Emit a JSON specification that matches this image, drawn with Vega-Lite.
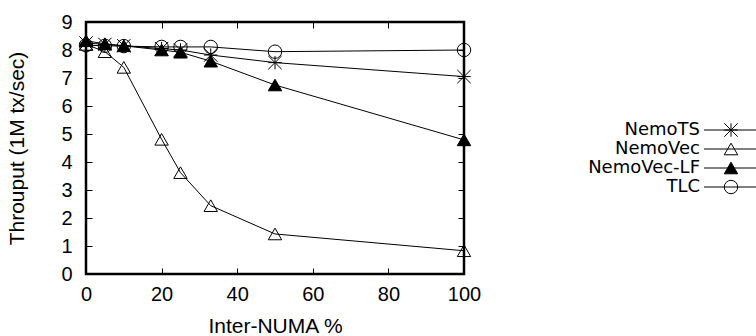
{
  "$schema": "https://vega.github.io/schema/vega-lite/v6.json",
  "padding": {"left": 5, "top": 10, "right": 0, "bottom": 0},
  "spacing": 13,
  "background": "white",
  "datasets": {
    "perf": [
      {"series": "NemoTS", "x": 0, "y": 8.25},
      {"series": "NemoTS", "x": 5, "y": 8.2},
      {"series": "NemoTS", "x": 10, "y": 8.15},
      {"series": "NemoTS", "x": 20, "y": 8.05},
      {"series": "NemoTS", "x": 25, "y": 8.0},
      {"series": "NemoTS", "x": 33, "y": 7.82},
      {"series": "NemoTS", "x": 50, "y": 7.55},
      {"series": "NemoTS", "x": 100, "y": 7.05},
      {"series": "NemoVec", "x": 0, "y": 8.2},
      {"series": "NemoVec", "x": 5, "y": 7.94},
      {"series": "NemoVec", "x": 10, "y": 7.38},
      {"series": "NemoVec", "x": 20, "y": 4.81},
      {"series": "NemoVec", "x": 25, "y": 3.62},
      {"series": "NemoVec", "x": 33, "y": 2.44},
      {"series": "NemoVec", "x": 50, "y": 1.43},
      {"series": "NemoVec", "x": 100, "y": 0.83},
      {"series": "NemoVec-LF", "x": 0, "y": 8.33},
      {"series": "NemoVec-LF", "x": 5, "y": 8.22},
      {"series": "NemoVec-LF", "x": 10, "y": 8.15},
      {"series": "NemoVec-LF", "x": 20, "y": 8.0},
      {"series": "NemoVec-LF", "x": 25, "y": 7.92},
      {"series": "NemoVec-LF", "x": 33, "y": 7.6},
      {"series": "NemoVec-LF", "x": 50, "y": 6.75},
      {"series": "NemoVec-LF", "x": 100, "y": 4.79},
      {"series": "TLC", "x": 0, "y": 8.17},
      {"series": "TLC", "x": 5, "y": 8.15},
      {"series": "TLC", "x": 10, "y": 8.14},
      {"series": "TLC", "x": 20, "y": 8.11},
      {"series": "TLC", "x": 25, "y": 8.11},
      {"series": "TLC", "x": 33, "y": 8.11},
      {"series": "TLC", "x": 50, "y": 7.94},
      {"series": "TLC", "x": 100, "y": 8.0}
    ],
    "keys": [
      {"series": "NemoTS"},
      {"series": "NemoVec"},
      {"series": "NemoVec-LF"},
      {"series": "TLC"}
    ]
  },
  "config": {
    "font": "Liberation Sans",
    "view": {"stroke": "black", "strokeWidth": 2.5},
    "axis": {
      "grid": false,
      "domain": false,
      "ticks": true,
      "tickColor": "black",
      "tickWidth": 1,
      "tickSize": -6,
      "labelColor": "black",
      "labelFont": "Liberation Sans",
      "labelFontSize": 20,
      "titleColor": "black",
      "titleFont": "Liberation Sans",
      "titleFontSize": 21,
      "titleFontWeight": "normal"
    }
  },
  "hconcat": [
    {
      "width": 378,
      "height": 252,
      "data": {"name": "perf"},
      "resolve": {"axis": {"x": "independent", "y": "independent"}},
      "layer": [
        {
          "mark": {"type": "line", "color": "black", "strokeWidth": 1},
          "encoding": {
            "x": {
              "field": "x", "type": "quantitative",
              "scale": {"domain": [0, 100], "nice": false, "zero": false},
              "axis": {"orient": "bottom", "values": [0, 20, 40, 60, 80, 100], "title": "Inter-NUMA %", "labelPadding": 16, "titlePadding": 11, "labelFlush": false}
            },
            "y": {
              "field": "y", "type": "quantitative",
              "scale": {"domain": [0, 9], "nice": false},
              "axis": {"orient": "left", "values": [0, 1, 2, 3, 4, 5, 6, 7, 8, 9], "title": "Throuput (1M tx/sec)", "labelPadding": 20, "titlePadding": 33, "labelFlush": false}
            },
            "detail": {"field": "series", "type": "nominal"}
          }
        },
        {
          "mark": {"type": "point", "size": 180, "strokeWidth": 1, "opacity": 1},
          "encoding": {
            "x": {
              "field": "x", "type": "quantitative",
              "scale": {"domain": [0, 100], "nice": false, "zero": false},
              "axis": {"orient": "top", "values": [0, 20, 40, 60, 80, 100], "labels": false, "title": null}
            },
            "y": {
              "field": "y", "type": "quantitative",
              "scale": {"domain": [0, 9], "nice": false},
              "axis": {"orient": "right", "values": [0, 1, 2, 3, 4, 5, 6, 7, 8, 9], "labels": false, "title": null}
            },
            "shape": {
              "field": "series", "type": "nominal",
              "scale": {"domain": ["NemoTS", "NemoVec", "NemoVec-LF", "TLC"], "range": ["M0,-1L0,1M-1,0L1,0M-1,-1L1,1M-1,1L1,-1", "triangle-up", "triangle-up", "circle"]},
              "legend": null
            },
            "fill": {
              "field": "series", "type": "nominal",
              "scale": {"domain": ["NemoTS", "NemoVec", "NemoVec-LF", "TLC"], "range": ["transparent", "transparent", "black", "transparent"]},
              "legend": null
            },
            "stroke": {"value": "black"}
          }
        }
      ]
    },
    {
      "width": 264,
      "height": 252,
      "view": {"stroke": null},
      "data": {"name": "keys"},
      "encoding": {
        "y": {
          "field": "series", "type": "nominal",
          "scale": {"type": "point", "padding": 0, "domain": ["NemoTS", "NemoVec", "NemoVec-LF", "TLC"], "range": [108, 165]},
          "axis": null
        }
      },
      "layer": [
        {
          "mark": {"type": "text", "align": "right", "baseline": "middle", "font": "DejaVu Sans", "fontSize": 18, "color": "black"},
          "encoding": {
            "x": {"datum": 205, "type": "quantitative", "scale": {"domain": [0, 264], "nice": false, "zero": false}, "axis": null},
            "text": {"field": "series", "type": "nominal"}
          }
        },
        {
          "mark": {"type": "rule", "color": "black", "strokeWidth": 1},
          "encoding": {
            "x": {"datum": 209, "type": "quantitative"},
            "x2": {"datum": 264}
          }
        },
        {
          "mark": {"type": "point", "size": 180, "strokeWidth": 1, "opacity": 1},
          "encoding": {
            "x": {"datum": 236, "type": "quantitative"},
            "shape": {"field": "series", "type": "nominal", "legend": null},
            "fill": {"field": "series", "type": "nominal", "legend": null},
            "stroke": {"value": "black"}
          }
        }
      ]
    }
  ]
}
